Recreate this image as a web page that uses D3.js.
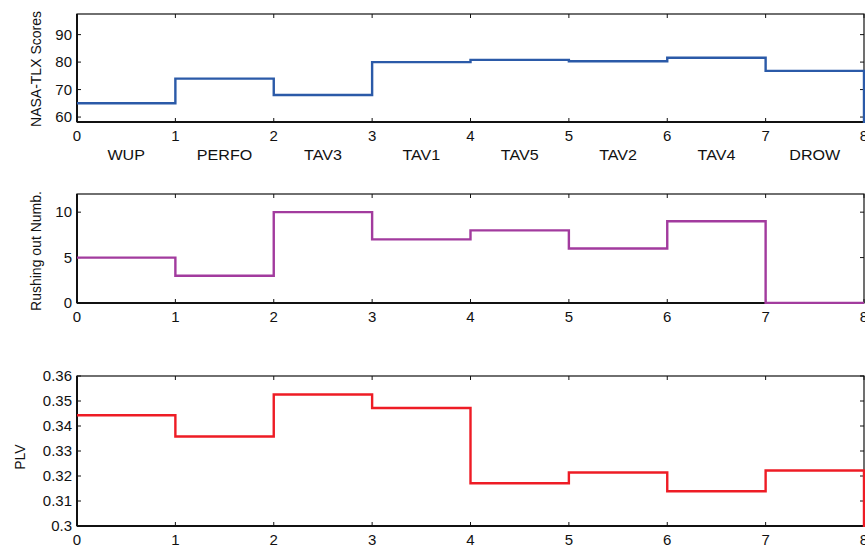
<!DOCTYPE html>
<html>
<head>
<meta charset="utf-8">
<script src="https://cdn.jsdelivr.net/npm/d3@7"></script>
<style>
  body { margin: 0; background: #fff; }
  svg text { font-family: "Liberation Sans", Arial, sans-serif; fill: #111; }
</style>
</head>
<body>
<svg id="chart" width="865" height="546"></svg>
<script>
// datos (stairs, el ultimo valor cierra la escalera en x = 8)
const conditions = ["WUP", "PERFO", "TAV3", "TAV1", "TAV5", "TAV2", "TAV4", "DROW"]
const nasaTlx = [65, 74, 68, 80, 80.8, 80.3, 81.6, 76.8, 0]
const rushingOut = [5, 3, 10, 7, 8, 6, 9, 0, 0]
const plv = [0.3443, 0.3358, 0.3526, 0.3472, 0.3171, 0.3214, 0.3139, 0.3222, 0]

const xTicks = [0, 1, 2, 3, 4, 5, 6, 7, 8]
const nasaTicks = [60, 70, 80, 90]
const rushTicks = [0, 5, 10]
const plvTicks = [0.3, 0.31, 0.32, 0.33, 0.34, 0.35, 0.36]

const svg = d3.select('#chart')
const left = 77, right = 864

const x = d3.scaleLinear().domain([0, 8]).range([left, right])

function panel(cfg) {
    const y = d3.scaleLinear().domain(cfg.domain).range([cfg.bottom, cfg.top])
    const g = svg.append('g')
    const id = 'clip' + cfg.top

    g.append('clipPath').attr('id', id)
        .append('rect')
        .attr('x', left).attr('y', cfg.top - 1)
        .attr('width', right - left + 2).attr('height', cfg.bottom - cfg.top + 2)

    // caja
    g.append('rect')
        .attr('x', left).attr('y', cfg.top)
        .attr('width', right - left).attr('height', cfg.bottom - cfg.top)
        .attr('fill', 'none').attr('stroke', '#111').attr('stroke-width', 1.2)
    g.append('line')
        .attr('x1', left).attr('x2', right)
        .attr('y1', cfg.bottom).attr('y2', cfg.bottom)
        .attr('stroke', '#111').attr('stroke-width', 2)
    g.append('line')
        .attr('x1', left).attr('x2', left)
        .attr('y1', cfg.top).attr('y2', cfg.bottom)
        .attr('stroke', '#111').attr('stroke-width', 2)

    // ticks hacia adentro en los cuatro lados
    const tl = 4
    g.selectAll('.xt').data(xTicks).join('path')
        .attr('d', d => `M${x(d)},${cfg.bottom}v${-tl}M${x(d)},${cfg.top}v${tl}`)
        .attr('stroke', '#111').attr('stroke-width', 1)
    g.selectAll('.yt').data(cfg.ticks).join('path')
        .attr('d', d => `M${left},${y(d)}h${tl}M${right},${y(d)}h${-tl}`)
        .attr('stroke', '#111').attr('stroke-width', 1)

    // escalera (encima de la caja, como en matlab)
    const pts = cfg.values.map((v, i) => [i, v])
    const line = d3.line()
        .x(d => x(d[0]))
        .y(d => y(d[1]))
        .curve(d3.curveStepAfter)

    g.append('path')
        .datum(pts)
        .attr('d', line)
        .attr('clip-path', `url(#${id})`)
        .attr('fill', 'none')
        .attr('stroke', cfg.color)
        .attr('stroke-width', 2.4)

    g.selectAll('.xl').data(xTicks).join('text')
        .attr('x', d => x(d)).attr('y', cfg.bottom + 19)
        .attr('text-anchor', 'middle')
        .style('font-size', '15px')
        .text(d => d)
    g.selectAll('.yl').data(cfg.ticks).join('text')
        .attr('x', left - 5).attr('y', d => y(d) + 5)
        .attr('text-anchor', 'end')
        .style('font-size', '15px')
        .text(cfg.format)

    g.append('text')
        .attr('transform', `translate(${cfg.labelX},${cfg.labelY}) rotate(-90)`)
        .attr('text-anchor', 'middle')
        .style('font-size', '14px')
        .text(cfg.label)
    return g
}

const p1 = panel({
    top: 14, bottom: 122, domain: [58.2, 97.5], ticks: nasaTicks,
    values: nasaTlx, color: '#2b5aa8', label: 'NASA-TLX Scores',
    labelX: 41, labelY: 69, format: d => d
})

// nombres de las condiciones centrados entre ticks
p1.selectAll('.cond').data(conditions).join('text')
    .attr('transform', (d, i) => `translate(${x(i + 0.5)},160) scale(1.15,1)`)
    .attr('text-anchor', 'middle')
    .style('font-size', '14px')
    .text(d => d)

panel({
    top: 194, bottom: 303, domain: [0, 12], ticks: rushTicks,
    values: rushingOut, color: '#a23b9e', label: 'Rushing out Numb.',
    labelX: 41, labelY: 251, format: d => d
})

panel({
    top: 376, bottom: 526, domain: [0.3, 0.36], ticks: plvTicks,
    values: plv, color: '#ee1c25', label: 'PLV',
    labelX: 25, labelY: 457, format: d => d === 0.3 ? '0.3' : d3.format('.2f')(d)
})
</script>
</body>
</html>
